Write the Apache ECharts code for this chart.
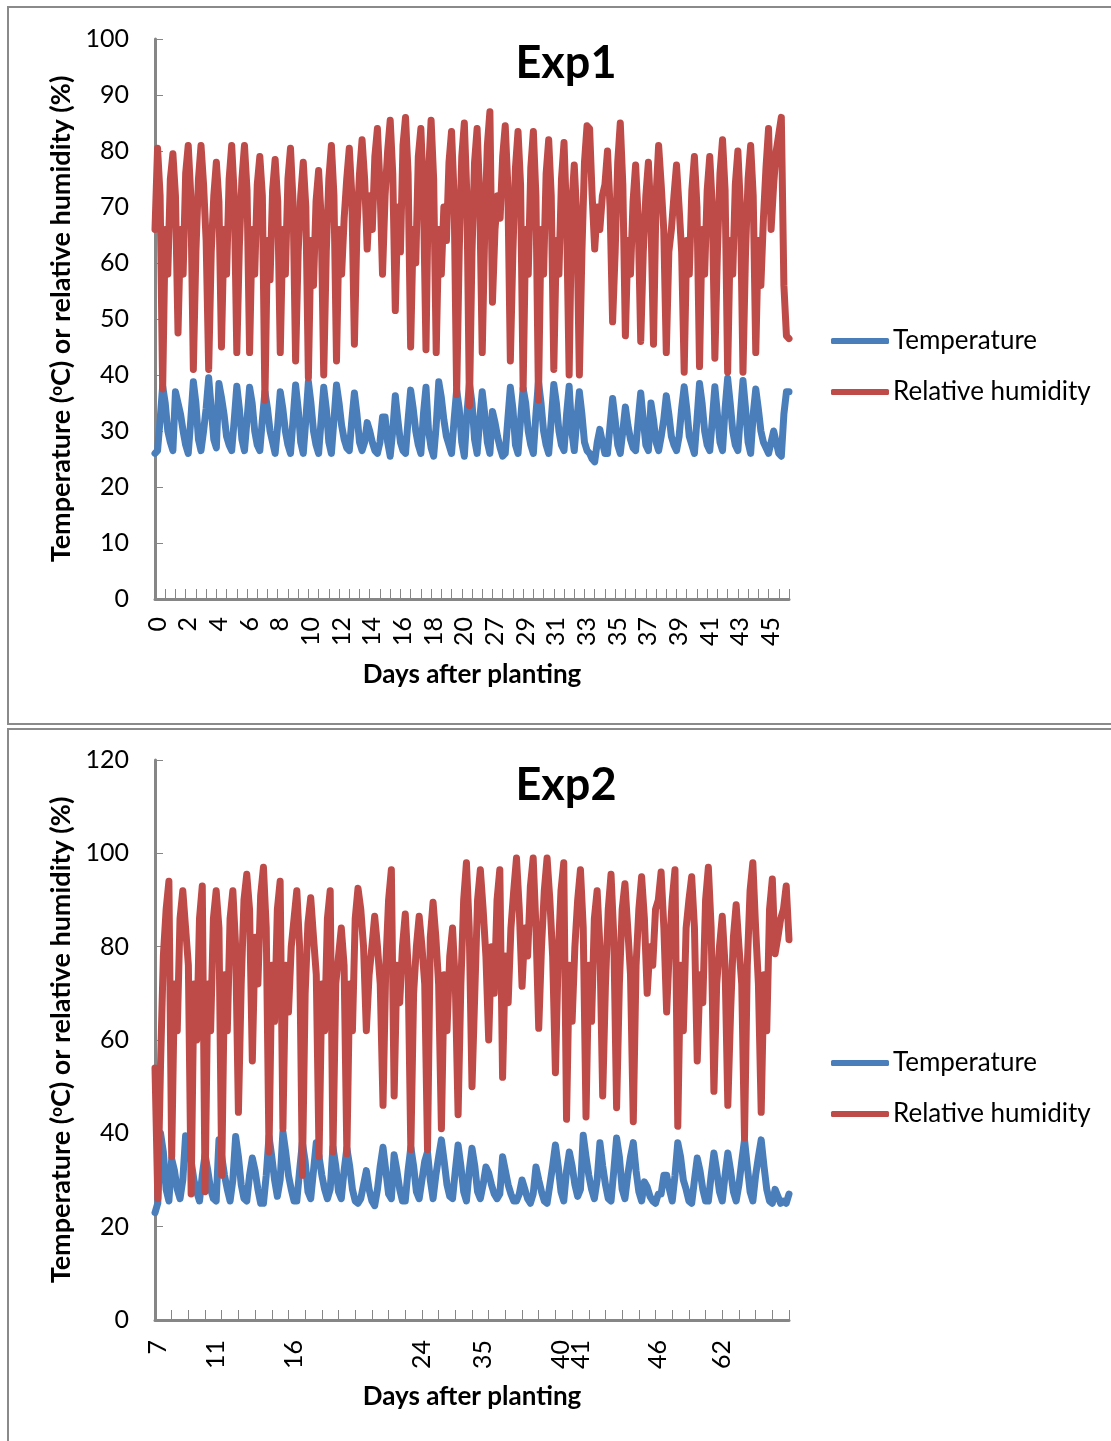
<!DOCTYPE html>
<html>
<head>
<meta charset="utf-8">
<script src="https://cdn.jsdelivr.net/npm/echarts@6/dist/echarts.min.js"></script>
<style>html,body{margin:0;padding:0;background:#fff}#c{width:1111px;height:1441px}</style>
</head>
<body>
<div id="c"></div>
<script>
const exp1TickLabels = ['0','2','4','6','8','10','12','14','16','18','20','27','29','31','33','35','37','39','41','43','45'];
const exp2TickLabels = ['7','11','16','24','35','40','41','46','62'];
const exp2TickSlots = [1,22,50,96,118,146,153,181,204];

const exp1Temperature = [26,
26.5,32,38,35,30,28,
26.5,37,35,33,30,27.5,
26,32,38.8,35,28.5,
26.5,30,34,39.5,34,28.5,
27,38.5,36,33,29,27.5,
26.5,32,38,34,28.5,
26.5,32,37.8,35,30,27.5,
26.5,32,37,34,30,28,
26,31,37,34,30,27.5,
26,32,38.2,34,28,
26,32,38.8,35,30,27.5,
26,32,37.8,34,28,
26,32,38.2,35,31,28.5,27,
26.5,32,36.8,33,28,
26.5,28,31.5,30,28,26.5,
26,28,32.5,32.5,28,
25.5,30,36.3,32,28,26.5,
26,32,37.3,34,30,27.5,
26,33,37.8,30,
27,25.5,31,38.8,36,32,29,27.5,
26,32,37.3,34,28,
25.5,33,38.5,35,28.5,
26,32,37,33,28,
26,33.5,31.5,29,27,25.5,
26,32,37.8,34,27.5,
26,32,37.6,35,30,27.5,
26,33,38.8,35,30,27.5,
26,32,38.3,35,30,27.5,
26.5,33,38,30,
26.5,32,37,33,28,
26.5,26,25,24.5,28,30.3,28,26,
26,31,35.8,32,27.5,
26,30,34.3,31,28.5,27,
26.5,32,36.8,32,27.5,
26.5,35,32,28,
26.5,29,32,36.3,33,29,27.5,
26.5,29,34,37.9,34,29,27.5,
26,32,38.5,35,30,27.5,
26.5,32,37.9,33,28,
26.5,34,39.4,35,30,27.5,
26.5,33,39,34,28,
26,33,37.5,34,30,28,27,
26,28,30,28,26,
25.5,33,37,37];

const exp1Humidity = [66,
80.5,72,37.5,66,58,75,
79.5,72,47.5,66,58,76,
81,72,41,62,75,
81,74,64,41,62,72,
78,71,45,66,58,75,
81,72,44,63,75,
81,73,44,66,58,74,
79,72,35.5,64,57,73,
78.5,71,44,66,58,75,
80.5,71,42.5,62,72,
78,70,39.5,64,56,71,
76.5,68,40,62,75,
81,72,42.5,66,58,68,75,
80.5,72,45.5,66,76,
82,75,62.5,72,66,79,
84,74,58,72,80,
85.5,76,51.5,70,62,81,
86,76,45,66,60,79,
84,72,44.5,76,
85.5,75,44,66,58,70,64,78,
83.5,72,36.5,62,79,
85,72,34.5,62,78,
84,72,44,66,81,
87,53,66,72,68,79,
84.5,74,42.5,62,77,
83.5,74,37.5,66,58,77,
83.5,72,35.5,66,58,76,
82,72,41,64,58,75,
81.5,68,40,70,
77.5,68,40,62,78,
84.5,84,72,62.5,70,66,72,74,
80,70,49.5,62,78,
85,74,47,64,58,71,
77.5,68,46,62,72,
78,68,45.5,72,
81,74,66,44,62,66,72,
77.5,70,62,40.5,64,58,73,
79,70,41.5,66,58,73,
79,70,43,62,76,
82,73,40.5,64,58,74,
80,70,40.5,62,75,
81,72,44,64,56,68,77,
84,66,74,80,83,
86,56,47,46.5];

const exp2Temperature = [23,25,40,36,28,
25.5,34.5,32,28,26,
30,39.5,37,34,30,27.5,25.5,
31,35.4,32,28,26,
25.5,38.6,35,31,28,25.5,
30,39.3,35,29,26,
25.5,31,34.7,32,28,25,
25,31,39.3,35,30,26.5,
30,40.3,36,31,28,25.5,
25.5,32,38,34,27.5,
26,32,38,35,31,28,26,
28,37,33,27.5,
26,32,36.8,33,28,25.5,
25,26,29,32,28,25.5,
24.5,28,33,37,32,27,
26,35.4,32,28,25.5,
25.5,32,37,33,27.5,
26,30,34,36,30,
26,31,35,38.6,34,29,26.5,
26,32,37.5,33,27.5,
25.5,32,36.8,33,27.5,
26,29,32.8,31.5,29,27,26,
27,35,32,29,27,25.5,
25.5,27,30,28,26,25,
27,32.8,30,27.5,25.5,
25,29,33,37.5,33,27.5,
25.5,32,36,33,29,26.5,
28,39.6,35,31,28,26,
30,38,33,29,26,
25.5,32,39,35,28,
26,31,35,38,32,27.5,
25.5,29.6,28.5,26.5,25.5,25,27,
27,31,31,28,25.5,
31,38,35,30,28,25.5,
25,30,34.7,32,28,25.5,
25.5,31,35.8,32,27.5,
25.5,31,35.8,32,27.5,
25.5,29,34,38.6,33,27.5,
25.5,31,35,38.6,33,28,25.5,
25,28,26.5,25,25.5,
25,27];

const exp2Humidity = [54,26,55,78,88,
94,35,72,62,86,
92,84,76,27,72,60,86,
93,27.5,72,62,86,
92,84,31,74,62,86,
92,80,44.5,72,90,
95.5,88,55.5,82,72,91,
97,84,36,76,64,88,
94,41,76,66,80,86,
92,80,31,70,85,
90.5,82,74,35,72,62,86,
92,36,72,78,
84,76,35.6,72,62,86,
92.5,88,80,62,74,80,
86.5,80,72,46,76,90,
96.5,48,76,68,80,
87,76,36.5,70,80,
86.5,80,72,36.5,82,
89.5,82,72,41,74,62,78,
84,72,44,72,90,
98,84,50,70,90,
96.5,88,78,60,80,70,90,
96.5,52,78,68,84,92,
99,88,71.5,84,78,93,
99,84,62.5,80,92,
99,90,78,53,78,92,
98,43,76,64,80,90,
96.5,84,43.5,76,64,86,
92,80,48,72,88,
95.5,82,45.5,72,88,
93.5,84,74,42.5,76,88,
95,86,70,80,76,88,90,
96,84,66,80,90,
96.5,41.5,76,62,84,90,
95,84,55.5,74,68,90,
97,84,49,72,80,
86.5,76,46,66,82,
89,80,72,39,76,92,
98,84,72,44.5,74,62,88,
94.5,78.5,82,86,88,
93,81.5];

const exp1Categories = exp1Humidity.map(() => '');
exp1TickLabels.forEach((t, i) => { exp1Categories[1 + i * 12] = t; });
const exp2Categories = exp2Humidity.map(() => '');
exp2TickLabels.forEach((t, i) => { exp2Categories[exp2TickSlots[i]] = t; });

const FONT = 'Lato';
const AXIS = '#868686';
const BLUE = '#4A7EBB';
const RED = '#BE4B48';

function xAxis(gridIndex, cats, tickGap, nameGap, margin) {
  return {
    type: 'category', gridIndex, data: cats, boundaryGap: false,
    name: 'Days after planting', nameLocation: 'middle', nameGap,
    nameTextStyle: {fontFamily: FONT, fontWeight: 'bold', fontSize: 26, color: '#000'},
    axisLine: {lineStyle: {color: AXIS, width: 3}},
    axisTick: {inside: true, length: 10, interval: tickGap - 1, lineStyle: {color: AXIS, width: 1}},
    axisLabel: {rotate: 90, margin, fontFamily: FONT, fontSize: 25, color: '#000',
      interval: (i, v) => v !== ''},
    splitLine: {show: false}
  };
}
function yAxis(gridIndex, max, step) {
  return {
    type: 'value', gridIndex, min: 0, max, interval: step,
    name: '{a|Temperature (}{s|o}{a|C) or relative humidity (%)}',
    nameLocation: 'middle', nameGap: 79,
    nameTextStyle: {rich: {
      a: {fontFamily: FONT, fontWeight: 'bold', fontSize: 27, color: '#000'},
      s: {fontFamily: FONT, fontWeight: 'bold', fontSize: 17, color: '#000', verticalAlign: 'top', padding: [0,0,8,0]}
    }},
    axisLine: {show: true, lineStyle: {color: AXIS, width: 3}},
    axisTick: {show: true, inside: true, length: 8, lineStyle: {color: AXIS, width: 1}},
    axisLabel: {margin: 26, padding: [3,0,0,0], fontFamily: FONT, fontSize: 25, color: '#000'},
    splitLine: {show: false}
  };
}
function line(name, color, idx, data) {
  return {
    name, type: 'line', xAxisIndex: idx, yAxisIndex: idx, data, symbol: 'none', clip: false,
    lineStyle: {color, width: 7, cap: 'round', join: 'round'}, itemStyle: {color}
  };
}
function legend(top) {
  return {
    orient: 'vertical', left: 826, top, itemWidth: 58, itemHeight: 6, itemGap: 25, icon: 'roundRect',
    data: ['Temperature', 'Relative humidity'], selectedMode: false,
    textStyle: {fontFamily: FONT, fontSize: 26, color: '#000', padding: [0,0,0,-1]}
  };
}

const chart = echarts.init(document.getElementById('c'), null, {renderer: 'canvas'});
chart.setOption({
  animation: false,
  backgroundColor: '#fff',
  title: [
    {text: 'Exp1', left: 561, top: 36, textAlign: 'center', textStyle: {fontFamily: FONT, fontWeight: 'bold', fontSize: 45, color: '#000'}},
    {text: 'Exp2', left: 561, top: 758, textAlign: 'center', textStyle: {fontFamily: FONT, fontWeight: 'bold', fontSize: 45, color: '#000'}}
  ],
  legend: [legend(323), legend(1045)],
  grid: [
    {left: 155, top: 39, width: 634, height: 560},
    {left: 155, top: 760, width: 634, height: 560}
  ],
  xAxis: [xAxis(0, exp1Categories, 4, 63, 18), xAxis(1, exp2Categories, 6, 64, 20)],
  yAxis: [yAxis(0, 100, 10), yAxis(1, 120, 20)],
  series: [
    line('Temperature', BLUE, 0, exp1Temperature),
    line('Relative humidity', RED, 0, exp1Humidity),
    line('Temperature', BLUE, 1, exp2Temperature),
    line('Relative humidity', RED, 1, exp2Humidity)
  ],
  graphic: [
    {type: 'rect', silent: true, z: -1, shape: {x: 8, y: 7, width: 1115, height: 717}, style: {fill: 'none', stroke: '#8a8a8a', lineWidth: 2}},
    {type: 'rect', silent: true, z: -1, shape: {x: 8, y: 729, width: 1115, height: 730}, style: {fill: 'none', stroke: '#8a8a8a', lineWidth: 2}}
  ]
});
</script>
</body>
</html>
